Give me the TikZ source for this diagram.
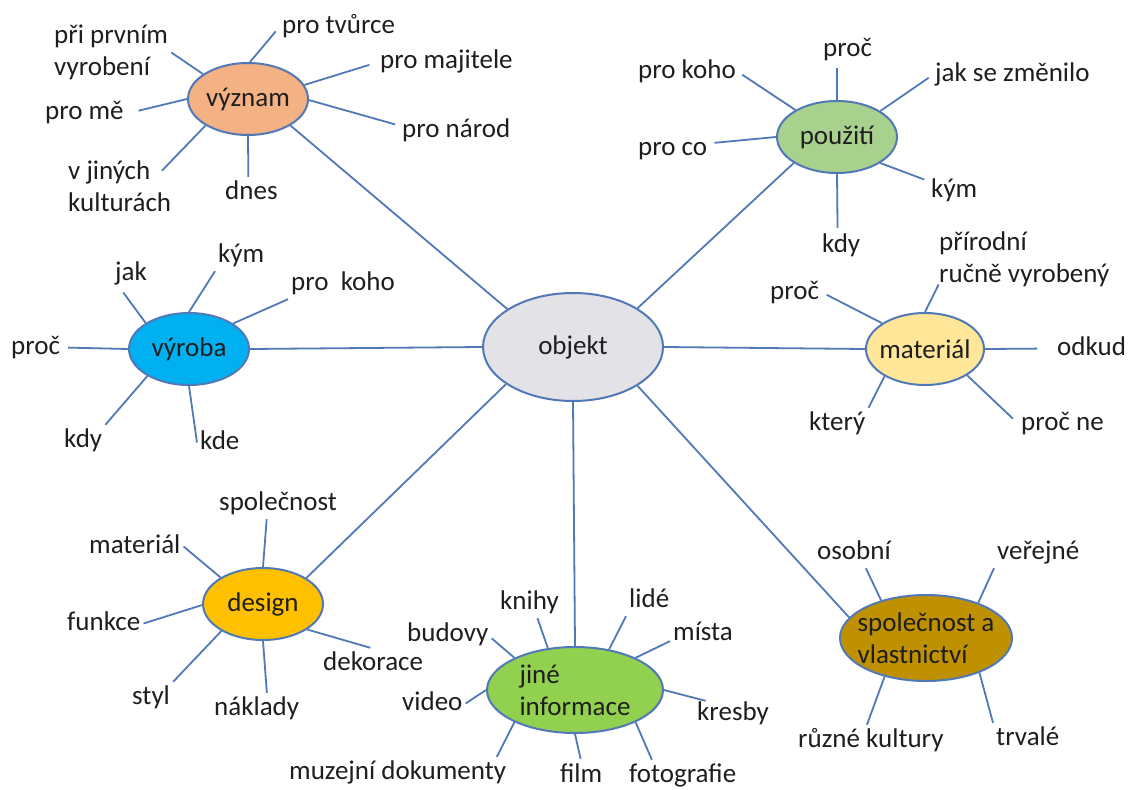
\documentclass[tikz,border=0pt]{standalone}
\usepackage{fontspec}
\setmainfont{Carlito}
\usetikzlibrary{shapes.geometric}
\definecolor{linec}{HTML}{5279B7}
\definecolor{txt}{HTML}{1E1E1E}
\definecolor{objc}{HTML}{E2E2E7}
\definecolor{vyzc}{HTML}{F4B183}
\definecolor{pouc}{HTML}{A9D18E}
\definecolor{vyrc}{HTML}{00B0F0}
\definecolor{matc}{HTML}{FFE699}
\definecolor{desc}{HTML}{FFC000}
\definecolor{jinc}{HTML}{92D050}
\definecolor{spoc}{HTML}{BF9000}
\begin{document}
\begin{tikzpicture}[x=1pt,y=-1pt,
  hub/.style={ellipse, draw=linec, line width=2pt, inner sep=-12pt, align=left,
    font=\fontsize{27}{32}\selectfont, text=txt},
  leaf/.style={anchor=base west, inner sep=3pt, text height=19pt, text depth=6pt,
    font=\fontsize{27}{32}\selectfont, text=txt},
  leafm/.style={anchor=west, inner sep=3pt, align=left,
    font=\fontsize{27}{32}\selectfont, text=txt},
  conn/.style={draw=linec, line width=1.8pt}]
\useasboundingbox[fill=white] (0,0) rectangle (1131,789);

% hubs
\node[hub, fill=objc, minimum width=180pt, minimum height=108pt] (objekt) at (573,347) {objekt};
\node[hub, fill=vyzc, minimum width=120pt, minimum height=72pt] (vyznam) at (248,99) {význam};
\node[hub, fill=pouc, minimum width=120pt, minimum height=72pt] (pouziti) at (837,137) {použití};
\node[hub, fill=vyrc, minimum width=120pt, minimum height=72pt] (vyroba) at (189,349) {výroba};
\node[hub, fill=matc, minimum width=118pt, minimum height=72pt] (material) at (925,349) {materiál};
\node[hub, fill=desc, minimum width=120pt, minimum height=72pt] (design) at (263,604) {design};
\node[hub, fill=jinc, minimum width=176pt, minimum height=86pt] (jine) at (575,690) {jiné\\informace};
\node[hub, fill=spoc, minimum width=172pt, minimum height=86pt] (spol) at (926,638) {společnost a\\vlastnictví};

% význam leaves
\node[leafm] (prvnim) at (51,52.5) {při prvním\\vyrobení};
\node[leaf] (tvurce) at (279,34) {pro tvůrce};
\node[leaf] (majitele) at (377,69) {pro majitele};
\node[leaf] (me) at (42,120) {pro mě};
\node[leaf] (narod) at (399,137) {pro národ};
\node[leafm] (jinych) at (65,186.5) {v jiných\\kulturách};
\node[leaf] (dnes) at (222,199) {dnes};

% použití leaves
\node[leaf] (proc2) at (820,57) {proč};
\node[leaf] (prokoho2) at (635,79) {pro koho};
\node[leaf] (zmenilo) at (932,82) {jak se změnilo};
\node[leaf] (proco) at (635,155) {pro co};
\node[leaf] (kym2) at (928,197) {kým};
\node[leaf] (kdy2) at (819,252) {kdy};

% výroba leaves
\node[leaf] (jak) at (112,280) {jak};
\node[leaf] (kym3) at (215,262) {kým};
\node[leaf] (prokoho3) at (288,290) {pro\ \ koho};
\node[leaf] (proc3) at (8,354) {proč};
\node[leaf] (kdy3) at (61,447) {kdy};
\node[leaf] (kde) at (197,449) {kde};

% materiál leaves
\node[leafm] (prirodni) at (936,259) {přírodní\\ručně vyrobený};
\node[leaf] (proc4) at (767,299) {proč};
\node[leaf] (odkud) at (1054,355) {odkud};
\node[leaf] (ktery) at (806,430) {který};
\node[leaf] (procne) at (1018,430) {proč ne};

% design leaves
\node[leaf] (spolecnost2) at (216,510) {společnost};
\node[leaf] (material2) at (86,553) {materiál};
\node[leaf] (funkce) at (64,630) {funkce};
\node[leaf] (styl) at (129,704) {styl};
\node[leaf] (naklady) at (211,715) {náklady};
\node[leaf] (dekorace) at (320,670) {dekorace};

% jiné informace leaves
\node[leaf] (knihy) at (497,609) {knihy};
\node[leaf] (budovy) at (404,641) {budovy};
\node[leaf] (video) at (399,710) {video};
\node[leaf] (muzejni) at (286,779) {muzejní dokumenty};
\node[leaf, text depth=3pt, inner ysep=1pt] (film) at (557,782) {film};
\node[leaf] (fotografie) at (626,782) {fotografie};
\node[leaf] (lide) at (626,607) {lidé};
\node[leaf] (mista) at (670,640) {místa};
\node[leaf] (kresby) at (694,720) {kresby};

% společnost leaves
\node[leaf] (osobni) at (814,559) {osobní};
\node[leaf] (verejne) at (994,559) {veřejné};
\node[leaf] (kultury) at (795,747) {různé kultury};
\node[leaf] (trvale) at (993,745) {trvalé};

% connectors: význam
\draw[conn] (vyznam.151) -- (prvnim.east);
\draw[conn, shorten >=5pt] (vyznam.87) -- (tvurce.west);
\draw[conn, shorten >=8pt] (vyznam.14) -- (majitele.west);
\draw[conn, shorten >=12pt] (vyznam.180) -- (me.east);
\draw[conn, shorten >=4pt] (vyznam.-1) -- (narod.175);
\draw[conn, shorten >=-18pt] (vyznam.212) -- (jinych.north east);
\draw[conn] (vyznam.270) -- (dnes.101);
\draw[conn] (vyznam.-32) -- (objekt.150);

% použití
\draw[conn, shorten >=2pt] (pouziti.90) -- (proc2.236);
\draw[conn, shorten >=4pt] (pouziti.147) -- (prokoho2.east);
\draw[conn, shorten >=4pt] (pouziti.31) -- (zmenilo.west);
\draw[conn, shorten >=4pt] (pouziti.180) -- (proco.8);
\draw[conn, shorten >=4pt] (pouziti.-31) -- (kym2.160);
\draw[conn, shorten >=2pt] (pouziti.270) -- (kdy2.103);
\draw[conn] (pouziti.211) -- (objekt.31);

% výroba
\draw[conn, shorten >=4pt] (vyroba.149) -- (jak.237);
\draw[conn] (vyroba.90) -- (kym3.south west);
\draw[conn] (vyroba.30) -- (prokoho3.south west);
\draw[conn, shorten >=5pt] (vyroba.180) -- (proc3.east);
\draw[conn] (vyroba.213) -- (kdy3.north east);
\draw[conn] (vyroba.270) -- (kde.west);
\draw[conn] (vyroba.east) -- (objekt.west);

% materiál
\draw[conn, shorten >=-6pt] (material.90) -- (prirodni.south west);
\draw[conn, shorten >=5pt] (material.149) -- (proc4.east);
\draw[conn, shorten >=17pt] (material.0) -- (odkud.west);
\draw[conn] (material.214) -- (ktery.north east);
\draw[conn, shorten >=7pt] (material.-32) -- (procne.west);
\draw[conn] (objekt.east) -- (material.west);

% design
\draw[conn] (design.90) -- (spolecnost2.234);
\draw[conn] (design.148) -- (material2.east);
\draw[conn] (design.181) -- (funkce.east);
\draw[conn] (design.213) -- (styl.north east);
\draw[conn] (design.270) -- (naklady.57);
\draw[conn] (design.-30) -- (dekorace.100);
\draw[conn] (design.31) -- (objekt.209);

% jiné informace
\draw[conn] (jine.123) -- (knihy.-63);
\draw[conn] (jine.152) -- (budovy.-5);
\draw[conn] (jine.180) -- (video.east);
\draw[conn] (jine.208) -- (muzejni.9);
\draw[conn, shorten >=3pt] (jine.270) -- (film.north);
\draw[conn] (jine.-28) -- (fotografie.153);
\draw[conn] (jine.50) -- (lide.south west);
\draw[conn] (jine.28) -- (mista.193);
\draw[conn, shorten >=-12pt] (jine.0) -- (kresby.north west);
\draw[conn] (objekt.south) -- (jine.north);

% společnost a vlastnictví
\draw[conn] (spol.140) -- (osobni.-53);
\draw[conn] (spol.34) -- (verejne.south west);
\draw[conn] (spol.223) -- (kultury.104);
\draw[conn] (spol.-33) -- (trvale.north west);
\draw[conn] (objekt.-31) -- (spol.165);
\end{tikzpicture}
\end{document}
